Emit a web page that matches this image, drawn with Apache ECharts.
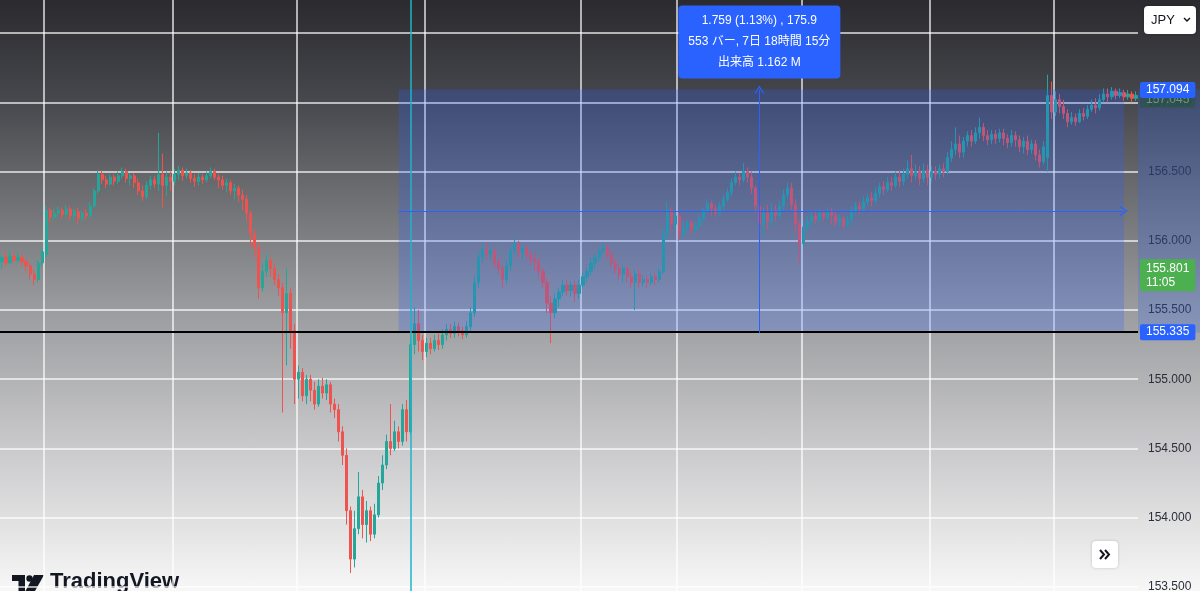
<!DOCTYPE html>
<html><head><meta charset="utf-8">
<script src="https://cdn.jsdelivr.net/npm/echarts/dist/echarts.min.js"></script>
<style>
html,body{margin:0;padding:0;width:1200px;height:591px;overflow:hidden;
background:linear-gradient(to bottom,#2a2a2f 0%,#47484d 17%,#9a9b9e 52%,#cacacc 76%,#f7f7f7 100%);}
#c{width:1200px;height:591px;}
</style></head><body><div id="c"></div>
<script>
// [open, close, low, high]
const candles = [
[155.85,155.88,155.80,155.90],[155.88,155.84,155.82,155.92],[155.84,155.89,155.83,155.93],[155.89,155.86,155.84,155.91],
[155.86,155.88,155.84,155.92],[155.88,155.85,155.82,155.90],[155.85,155.82,155.78,155.87],[155.82,155.76,155.72,155.84],
[155.76,155.72,155.68,155.79],[155.72,155.84,155.70,155.86],[155.84,155.92,155.82,155.95],[155.90,156.22,155.88,156.25],
[156.22,156.17,156.13,156.24],[156.17,156.20,156.15,156.23],[156.20,156.22,156.17,156.25],[156.22,156.19,156.16,156.24],
[156.19,156.23,156.17,156.26],[156.23,156.18,156.15,156.25],[156.18,156.21,156.14,156.23],[156.21,156.16,156.12,156.24],
[156.16,156.20,156.14,156.22],[156.20,156.18,156.15,156.23],[156.18,156.25,156.16,156.28],[156.25,156.36,156.24,156.38],
[156.36,156.48,156.34,156.51],[156.48,156.44,156.41,156.51],[156.44,156.41,156.38,156.47],[156.41,156.46,156.40,156.48],
[156.46,156.43,156.40,156.48],[156.43,156.47,156.41,156.50],[156.47,156.50,156.45,156.53],[156.50,156.45,156.42,156.52],
[156.45,156.47,156.40,156.49],[156.47,156.42,156.38,156.49],[156.42,156.36,156.33,156.45],[156.36,156.32,156.29,156.40],
[156.32,156.40,156.30,156.43],[156.40,156.44,156.37,156.47],[156.44,156.41,156.38,156.47],[156.41,156.48,156.36,156.78],
[156.48,156.40,156.24,156.63],[156.40,156.46,156.32,156.50],[156.46,156.43,156.36,156.50],[156.43,156.48,156.40,156.52],
[156.48,156.51,156.44,156.54],[156.51,156.47,156.43,156.53],[156.47,156.49,156.45,156.52],[156.49,156.45,156.42,156.51],
[156.45,156.43,156.39,156.48],[156.43,156.46,156.40,156.49],[156.46,156.44,156.41,156.48],[156.44,156.47,156.42,156.50],
[156.47,156.50,156.45,156.53],[156.50,156.46,156.44,156.52],[156.46,156.44,156.38,156.48],[156.44,156.40,156.37,156.47],
[156.40,156.42,156.35,156.45],[156.42,156.36,156.33,156.44],[156.36,156.38,156.30,156.41],[156.38,156.33,156.28,156.40],
[156.33,156.30,156.22,156.37],[156.30,156.20,156.14,156.33],[156.20,156.05,155.96,156.22],[156.05,155.95,155.88,156.08],
[155.95,155.66,155.58,155.99],[155.66,155.78,155.63,155.84],[155.78,155.86,155.74,155.90],[155.86,155.80,155.74,155.88],
[155.80,155.72,155.68,155.84],[155.72,155.66,155.60,155.76],[155.66,155.48,154.76,155.70],[155.48,155.62,155.10,155.80],
[155.62,155.35,155.22,155.66],[155.35,155.00,154.82,155.40],[155.00,155.05,154.86,155.10],[155.05,154.88,154.84,155.08],
[154.88,155.00,154.82,155.03],[155.00,154.92,154.84,155.03],[154.92,154.82,154.78,154.98],[154.82,154.95,154.80,155.00],
[154.95,154.90,154.86,155.01],[154.90,154.96,154.85,155.00],[154.96,154.82,154.76,154.98],[154.82,154.78,154.72,154.86],
[154.78,154.62,154.55,154.82],[154.62,154.45,154.38,154.66],[154.45,154.05,153.95,154.50],[154.05,153.70,153.60,154.08],
[153.70,153.92,153.64,154.05],[153.92,154.15,153.88,154.33],[154.15,153.95,153.85,154.20],[153.95,154.05,153.82,154.12],
[154.05,153.88,153.83,154.08],[153.88,154.02,153.85,154.10],[154.02,154.25,154.00,154.30],[154.25,154.38,154.20,154.45],
[154.38,154.55,154.35,154.60],[154.55,154.50,154.45,154.82],[154.50,154.62,154.48,154.70],[154.62,154.55,154.50,154.66],
[154.55,154.78,154.52,154.82],[154.78,154.62,154.55,154.85],[154.62,155.25,154.60,155.30],[155.25,155.40,155.18,155.52],
[155.40,155.28,155.20,155.50],[155.28,155.20,155.14,155.32],[155.20,155.26,155.16,155.30],[155.26,155.22,155.18,155.30],
[155.22,155.28,155.20,155.32],[155.28,155.25,155.21,155.33],[155.25,155.32,155.22,155.36],[155.32,155.36,155.28,155.40],
[155.36,155.33,155.30,155.40],[155.33,155.38,155.30,155.42],[155.38,155.35,155.31,155.41],[155.35,155.32,155.29,155.38],
[155.32,155.38,155.30,155.42],[155.38,155.48,155.35,155.52],[155.48,155.70,155.45,155.75],[155.70,155.88,155.66,155.92],
[155.88,155.94,155.84,155.98],[155.94,155.90,155.86,155.99],[155.90,155.93,155.86,155.97],[155.93,155.84,155.80,155.95],
[155.84,155.80,155.76,155.88],[155.80,155.72,155.66,155.83],[155.72,155.82,155.69,155.86],[155.82,155.93,155.78,155.96],
[155.93,155.98,155.90,156.02],[155.98,155.92,155.88,156.00],[155.92,155.95,155.86,155.98],[155.95,155.90,155.86,155.97],
[155.90,155.87,155.82,155.93],[155.87,155.85,155.78,155.91],[155.85,155.78,155.73,155.88],[155.78,155.70,155.66,155.81],
[155.70,155.55,155.48,155.73],[155.55,155.48,155.26,155.60],[155.48,155.58,155.44,155.62],[155.58,155.63,155.52,155.66],
[155.63,155.68,155.60,155.72],[155.68,155.64,155.60,155.72],[155.64,155.68,155.60,155.71],[155.68,155.62,155.56,155.71],
[155.62,155.68,155.58,155.72],[155.68,155.74,155.66,155.77],[155.74,155.78,155.70,155.81],[155.78,155.84,155.75,155.88],
[155.84,155.88,155.80,155.91],[155.88,155.93,155.85,155.96],[155.93,155.95,155.90,155.99],[155.95,155.90,155.87,155.97],
[155.90,155.84,155.80,155.93],[155.84,155.80,155.76,155.87],[155.80,155.76,155.72,155.83],[155.76,155.80,155.70,155.83],
[155.80,155.74,155.70,155.82],[155.74,155.70,155.66,155.78],[155.70,155.76,155.50,155.79],[155.76,155.70,155.66,155.80],
[155.70,155.72,155.67,155.75],[155.72,155.70,155.66,155.75],[155.70,155.74,155.68,155.77],[155.74,155.72,155.68,155.77],
[155.72,155.78,155.70,155.81],[155.78,156.05,155.76,156.10],[156.05,156.22,156.02,156.28],[156.22,156.12,156.06,156.24],
[156.12,156.18,156.08,156.21],[156.18,156.05,156.00,156.22],[156.05,156.10,156.02,156.14],[156.10,156.13,156.06,156.15],
[156.13,156.08,156.05,156.15],[156.08,156.11,156.06,156.14],[156.11,156.16,156.08,156.19],[156.16,156.22,156.14,156.24],
[156.22,156.27,156.20,156.30],[156.27,156.23,156.18,156.29],[156.23,156.20,156.17,156.26],[156.20,156.25,156.18,156.28],
[156.25,156.30,156.22,156.33],[156.30,156.35,156.28,156.38],[156.35,156.42,156.32,156.45],[156.42,156.46,156.40,156.50],
[156.46,156.44,156.40,156.49],[156.44,156.50,156.42,156.56],[156.50,156.46,156.42,156.53],[156.46,156.38,156.34,156.50],
[156.38,156.25,156.20,156.40],[156.25,156.12,156.08,156.28],[156.12,156.20,156.02,156.24],[156.20,156.14,156.08,156.26],
[156.14,156.22,156.10,156.27],[156.22,156.18,156.14,156.26],[156.18,156.25,156.15,156.29],[156.25,156.33,156.22,156.37],
[156.33,156.38,156.30,156.42],[156.38,156.26,156.22,156.42],[156.26,156.12,156.05,156.30],[156.12,155.98,155.84,156.15],
[155.98,156.10,155.95,156.14],[156.10,156.14,156.07,156.18],[156.14,156.18,156.10,156.21],[156.18,156.15,156.12,156.21],
[156.15,156.20,156.13,156.23],[156.20,156.17,156.14,156.22],[156.17,156.21,156.15,156.24],[156.21,156.18,156.12,156.24],
[156.18,156.13,156.10,156.21],[156.13,156.16,156.10,156.19],[156.16,156.11,156.08,156.18],[156.11,156.15,156.09,156.18],
[156.15,156.22,156.12,156.25],[156.22,156.25,156.19,156.28],[156.25,156.23,156.19,156.28],[156.23,156.28,156.21,156.32],
[156.28,156.31,156.25,156.34],[156.31,156.29,156.25,156.35],[156.29,156.34,156.27,156.38],[156.34,156.39,156.31,156.42],
[156.39,156.37,156.33,156.43],[156.37,156.42,156.35,156.46],[156.42,156.40,156.36,156.46],[156.40,156.46,156.38,156.50],
[156.46,156.43,156.39,156.51],[156.43,156.48,156.40,156.52],[156.48,156.52,156.45,156.58],[156.52,156.47,156.42,156.62],
[156.47,156.50,156.44,156.55],[156.50,156.45,156.40,156.54],[156.45,156.51,156.42,156.56],[156.51,156.46,156.40,156.55],
[156.46,156.50,156.42,156.54],[156.50,156.48,156.44,156.54],[156.48,156.52,156.45,156.55],[156.52,156.50,156.46,156.56],
[156.50,156.60,156.48,156.64],[156.60,156.66,156.57,156.72],[156.66,156.70,156.62,156.82],[156.70,156.64,156.60,156.76],
[156.64,156.72,156.60,156.75],[156.72,156.76,156.68,156.79],[156.76,156.72,156.68,156.80],[156.72,156.78,156.70,156.82],
[156.78,156.82,156.74,156.89],[156.82,156.76,156.72,156.85],[156.76,156.73,156.69,156.80],[156.73,156.77,156.70,156.80],
[156.77,156.74,156.70,156.80],[156.74,156.78,156.71,156.81],[156.78,156.74,156.69,156.81],[156.74,156.71,156.67,156.77],
[156.71,156.76,156.68,156.80],[156.76,156.73,156.68,156.79],[156.73,156.68,156.64,156.76],[156.68,156.72,156.63,156.75],
[156.72,156.66,156.62,156.76],[156.66,156.70,156.63,156.73],[156.70,156.62,156.58,156.73],[156.62,156.57,156.53,156.66],
[156.57,156.68,156.55,156.72],[156.60,157.05,156.50,157.20],[157.05,156.93,156.88,157.15],[156.93,157.02,156.90,157.08],
[157.02,156.97,156.92,157.06],[156.97,156.92,156.88,157.02],[156.92,156.86,156.82,156.95],[156.86,156.89,156.84,156.93],
[156.89,156.86,156.83,156.92],[156.86,156.92,156.85,156.95],[156.92,156.90,156.87,156.96],[156.90,156.95,156.88,156.98],
[156.95,156.98,156.93,157.02],[156.98,156.96,156.92,157.03],[156.96,157.02,156.94,157.06],[157.02,157.06,157.00,157.10],
[157.06,157.04,157.00,157.10],[157.04,157.08,157.02,157.11],[157.08,157.05,157.02,157.10],[157.05,157.07,157.03,157.10],
[157.07,157.04,157.01,157.09],[157.04,157.06,157.02,157.09],[157.06,157.03,157.00,157.08],[157.03,157.05,157.01,157.08]
];
const categories = candles.map((_, i) => String(i));
const timeGridIdx = [11, 43, 74, 106, 145, 169, 200, 232, 263];
const crosshairIdx = 102;
const measureStart = 99, measureEnd = 280, measureMid = 189;
const measureLow = 155.335, measureHigh = 157.094;
const measureText = ['1.759 (1.13%) , 175.9', '553 バー, 7日 18時間 15分', '出来高 1.162 M'];
const lastPrice = 155.801, lastTime = '11:05';
const prevLabelPrice = 157.02, prevLabelText = '157.045';
const hiddenTickFrom = 157.5; // labels hidden under the currency button

const FONT = "'Liberation Sans', Arial, 'Noto Sans CJK JP', sans-serif";
const BLUE = '#2962ff';
const chevron = 'path://M0,9 L5,0 L10,9 L8.6,9 L5,2.6 L1.4,9 Z';
const measureMidPrice = (measureLow + measureHigh) / 2;

const chart = echarts.init(document.getElementById('c'), null, {renderer: 'canvas'});
const axisTagLabel = (txt, bg, col) => ({
  show: true, position: 'end', distance: 2, formatter: txt,
  backgroundColor: bg, color: col, padding: [2, 6, 2, 6], fontSize: 12,
  fontFamily: FONT, borderRadius: 2, lineHeight: 12
});
const hidden = {color: 'rgba(0,0,0,0)', width: 0};
const measLine = {color: BLUE, width: 1, type: 'solid', opacity: 1};

chart.setOption({
  backgroundColor: 'transparent',
  animation: false,
  grid: [
    {left: 0, right: 62, top: -36, bottom: -65, containLabel: false, outerBoundsMode: 'none'},
    {left: 1138, right: 0, top: -36, bottom: -65, containLabel: false, outerBoundsMode: 'none'}
  ],
  xAxis: [
    {type: 'category', data: categories, gridIndex: 0, boundaryGap: true,
     axisLine: {show: false}, axisTick: {show: false}, axisLabel: {show: false},
     splitLine: {show: true, showMinLine: true, showMaxLine: false, interval: (i) => timeGridIdx.includes(i),
       lineStyle: {color: 'rgba(255,255,255,0.85)', width: 1.5}}},
    {type: 'value', gridIndex: 1, min: 0, max: 1, show: false}
  ],
  yAxis: [
    {type: 'value', gridIndex: 0, position: 'right', min: 153, max: 158, interval: 0.5,
     axisLine: {show: false}, axisTick: {show: false},
     axisLabel: {color: '#2a2e39', fontSize: 12, fontFamily: FONT, margin: 10,
       formatter: (v) => (v >= hiddenTickFrom ? '' : v.toFixed(3))},
     splitLine: {lineStyle: {color: 'rgba(255,255,255,0.85)', width: 1.5}}},
    {type: 'value', gridIndex: 1, min: 153, max: 158, show: false}
  ],
  series: [
    {
      type: 'candlestick', xAxisIndex: 0, yAxisIndex: 0, data: candles, barWidth: 2.6,
      itemStyle: {color: '#26a69a', color0: '#ef5350', borderColor: '#26a69a', borderColor0: '#ef5350', borderWidth: 1},
      markArea: {
        silent: true, z: 3,
        itemStyle: {color: 'rgba(41,98,255,0.24)'},
        data: [[{xAxis: String(measureStart), yAxis: measureHigh}, {xAxis: String(measureEnd), yAxis: measureLow}]]
      },
      markLine: {
        silent: true, symbol: 'none', animation: false,
        data: [
          {yAxis: prevLabelPrice, lineStyle: hidden,
           label: axisTagLabel(prevLabelText, 'rgba(40,85,62,0.6)', '#6c967a')},
          {yAxis: measureLow, lineStyle: {color: '#000', width: 2, type: 'solid'},
           label: axisTagLabel(measureLow.toFixed(3), BLUE, '#fff')},
          {yAxis: measureHigh, lineStyle: hidden,
           label: axisTagLabel(measureHigh.toFixed(3), BLUE, '#fff')},
          {xAxis: String(crosshairIdx), lineStyle: {color: '#1fb3c8', width: 1.5, type: 'solid'}, label: {show: false}},
          [{coord: [String(measureStart), measureMidPrice], symbol: 'none', lineStyle: measLine, label: {show: false}},
           {coord: [String(measureEnd), measureMidPrice], symbol: chevron, symbolSize: [10, 8],
            lineStyle: measLine, label: {show: false}}],
          [{coord: [String(measureMid), measureLow], symbol: 'none', lineStyle: measLine, label: {show: false}},
           {coord: [String(measureMid), measureHigh], symbol: chevron, symbolSize: [10, 8],
            lineStyle: measLine, label: {show: false}}]
        ]
      },
      markPoint: {
        silent: true, animation: false,
        data: [
          {coord: [String(measureMid), measureHigh], symbol: 'rect', symbolSize: 0,
           label: {show: true, position: 'top', distance: 11, formatter: measureText.join('\n'),
             backgroundColor: BLUE, borderRadius: 4, padding: [5, 10, 5, 10], color: '#fff',
             fontSize: 12, lineHeight: 21, fontFamily: FONT, align: 'center'}},
          {coord: [String(candles.length - 1), lastPrice], symbol: 'rect', symbolSize: 0,
           label: {show: true, position: 'right', distance: 4, offset: [0, 7],
             formatter: lastPrice.toFixed(3) + '\n' + lastTime,
             backgroundColor: '#4caf50', color: '#fff', padding: [2, 6, 2, 6], fontSize: 12,
             lineHeight: 14, fontFamily: FONT, borderRadius: 2, align: 'left'}}
        ]
      }
    },
    {
      type: 'line', xAxisIndex: 1, yAxisIndex: 1, data: [[0, 153], [1, 153]],
      showSymbol: false, lineStyle: {width: 0, opacity: 0}, silent: true,
      markArea: {silent: true, z: 3, itemStyle: {color: 'rgba(41,98,255,0.22)'},
        data: [[{yAxis: measureHigh}, {yAxis: measureLow}]]}
    }
  ],
  graphic: [
    {type: 'group', left: 1144, top: 6, children: [
      {type: 'rect', shape: {x: 0, y: 0, width: 52, height: 28, r: 4},
       style: {fill: '#ffffff', shadowBlur: 3, shadowColor: 'rgba(0,0,0,0.25)'}},
      {type: 'text', x: 7, y: 14, style: {text: 'JPY', fill: '#131722', font: '13px ' + FONT, textVerticalAlign: 'middle'}},
      {type: 'polyline', shape: {points: [[40, 12], [43, 15], [46, 12]]}, style: {stroke: '#131722', lineWidth: 1.5, fill: null}}
    ]},
    {type: 'group', left: 1092, top: 541, children: [
      {type: 'rect', shape: {x: 0, y: 0, width: 26, height: 27, r: 4},
       style: {fill: '#ffffff', shadowBlur: 3, shadowColor: 'rgba(0,0,0,0.2)'}},
      {type: 'polyline', shape: {points: [[8, 9], [12, 13.5], [8, 18]]}, style: {stroke: '#131722', lineWidth: 2, fill: null}},
      {type: 'polyline', shape: {points: [[13, 9], [17, 13.5], [13, 18]]}, style: {stroke: '#131722', lineWidth: 2, fill: null}}
    ]},
    {type: 'group', left: 12, top: 571, children: [
      {type: 'polygon', shape: {points: [[0, 0], [13, 0], [13, 16], [6.5, 16], [6.5, 6], [0, 6]]}, style: {fill: '#131722'}},
      {type: 'circle', shape: {cx: 17.5, cy: 3.5, r: 3.2}, style: {fill: '#131722'}},
      {type: 'polygon', shape: {points: [[22, 0], [32, 0], [23, 16], [13.5, 16]]}, style: {fill: '#131722'}},
      {type: 'text', x: 38, y: 7, style: {text: 'TradingView', fill: '#131722', font: 'bold 22px ' + FONT, textVerticalAlign: 'middle'}}
    ]}
  ]
});
</script></body></html>
